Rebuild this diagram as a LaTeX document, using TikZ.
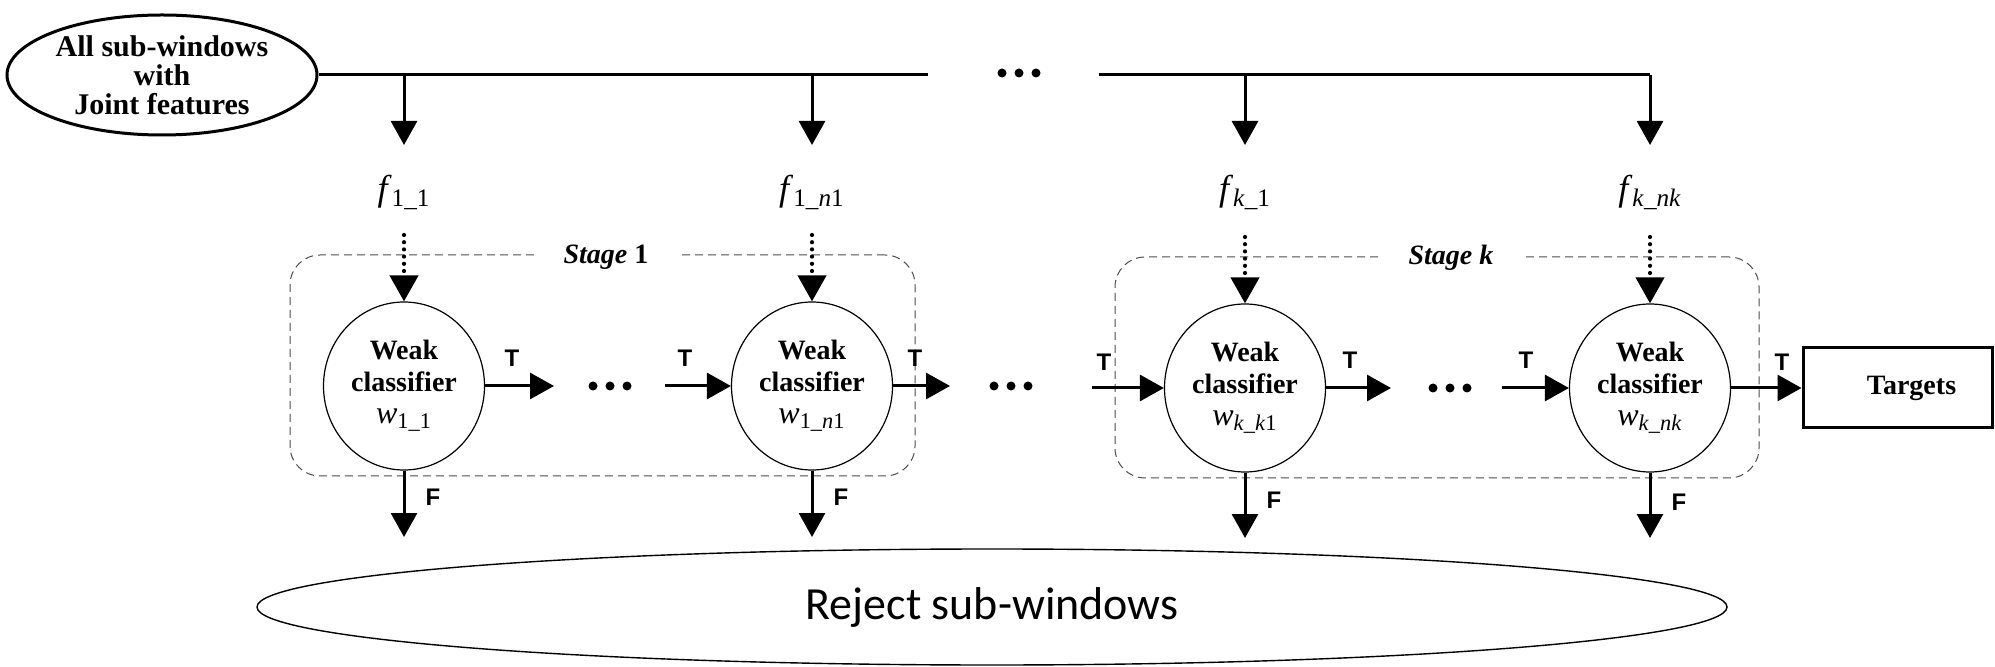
\documentclass[tikz,border=0pt]{standalone}
\usepackage{fontspec}
\usepackage{amsmath}
\setmainfont{Liberation Serif}
\newfontfamily\lsans{Liberation Sans}
\newfontfamily\carl{Carlito}
\usetikzlibrary{arrows.meta,shapes.geometric}
\newcommand{\wsub}[1]{{\mdseries\fontsize{16}{16}\selectfont\textit{w}$_{\text{\mdseries #1}}$}}
\newcommand{\fsub}[1]{\textit{f}$_{\text{#1}}$}
\tikzset{
  bigarrow/.style={line width=1.5pt,-{Triangle[length=12pt,width=13pt]}},
  dotarrow/.style={line width=2.1pt,line cap=round,dash pattern=on 0pt off 3.6pt,-{Triangle[length=13pt,width=14pt]}},
  wc/.style={ellipse,draw,line width=0.6pt,minimum width=80.5pt,minimum height=84pt,inner sep=0pt,align=center,fill=white,font=\fontsize{14}{16}\selectfont\bfseries},
  lab/.style={inner sep=0pt,font=\lsans\bfseries\fontsize{12}{12}\selectfont},
  flab/.style={inner sep=0pt,anchor=base,font=\fontsize{18}{18}\selectfont},
  stagebox/.style={draw=black!70,line width=0.5pt,dash pattern=on 4pt off 2.5pt,rounded corners=15pt,inner sep=0pt},
  stagelab/.style={fill=white,inner xsep=15pt,inner ysep=2pt,font=\fontsize{14}{14}\selectfont\bfseries\itshape},
  bdot/.style={circle,fill,inner sep=0pt,minimum size=4.5pt},
}
\begin{document}
\begin{tikzpicture}[x=0.5pt,y=-0.5pt]
\useasboundingbox (0,0) rectangle (1995,667);

% stage boxes
\node[stagebox,minimum width=312.5pt,minimum height=110.5pt] (s1) at (602.5,365.5) {};
\node[stagebox,minimum width=322pt,minimum height=110.5pt] (sk) at (1437,367.5) {};
\node[stagelab] (s1l) at (606,257) {Stage \textup{1}};
\node[stagelab] (skl) at (1451,258) {Stage k};

% source
\node[ellipse,draw,line width=1.5pt,minimum width=155pt,minimum height=60pt,inner sep=0pt,align=center,font=\fontsize{15}{14.5}\selectfont\bfseries] (src) at (162,75) {All sub-windows\\with\\Joint features};

\coordinate (l1e) at (928,75);
\coordinate (l2s) at (1099,75);
\coordinate (t1) at (404,75);
\coordinate (t2) at (812,75);
\coordinate (t3) at (1245,75);
\coordinate (t4) at (1650,75);
\draw[line width=1.5pt] (src.east) -- (l1e);
\draw[line width=1.5pt] (l2s) -- (t4);
\node[bdot] (td1) at (1002,73) {};
\node[bdot] (td2) at (1019,73) {};
\node[bdot] (td3) at (1036,73) {};

\coordinate (a1) at (404,145);
\coordinate (a2) at (812,145);
\coordinate (a3) at (1245,145);
\coordinate (a4) at (1650,145);
\draw[bigarrow] (t1) -- (a1);
\draw[bigarrow] (t2) -- (a2);
\draw[bigarrow] (t3) -- (a3);
\draw[bigarrow] (t4) -- (a4);

% features
\node[flab] (f1) at (404,201) {\fsub{1\_1}};
\node[flab] (f2) at (812,201) {\fsub{1\_\textit{n}1}};
\node[flab] (f3) at (1245,201) {\fsub{\textit{k}\_1}};
\node[flab] (f4) at (1650,201) {\fsub{\textit{k}\_\textit{nk}}};

% classifiers
\node[wc] (c1) at (404,386) {Weak\\classifier\\\wsub{1\_1}};
\node[wc] (c2) at (812,386) {Weak\\classifier\\\wsub{1\_\textit{n}1}};
\node[wc] (c3) at (1245,388) {Weak\\classifier\\\wsub{\textit{k}\_\textit{k}1}};
\node[wc] (c4) at (1650,388) {Weak\\classifier\\\wsub{\textit{k}\_\textit{nk}}};

\coordinate (d1) at (404,235);
\coordinate (d2) at (812,235);
\coordinate (d3) at (1245,237);
\coordinate (d4) at (1650,237);
\draw[dotarrow] (d1) -- (c1.north);
\draw[dotarrow] (d2) -- (c2.north);
\draw[dotarrow] (d3) -- (c3.north);
\draw[dotarrow] (d4) -- (c4.north);

% targets
\node[draw,line width=1.5pt,minimum width=94.5pt,minimum height=40pt,inner sep=0pt,font=\fontsize{14}{14}\selectfont\bfseries] (tg) at (1897.5,388) {\hspace*{14pt}Targets};

% T arrows
\coordinate (o1) at (554,386);
\coordinate (i2) at (665,386);
\coordinate (o2) at (950,386);
\coordinate (i3) at (1092,388);
\coordinate (o3) at (1391,388);
\coordinate (i4) at (1502,388);
\draw[bigarrow] (c1.east) -- (o1);
\draw[bigarrow] (i2) -- (c2.west);
\draw[bigarrow] (c2.east) -- (o2);
\draw[bigarrow] (i3) -- (c3.west);
\draw[bigarrow] (c3.east) -- (o3);
\draw[bigarrow] (i4) -- (c4.west);
\draw[bigarrow] (c4.east) -- (tg.west);

\node[lab] (T1) at (512,358) {T};
\node[lab] (T2) at (685,358) {T};
\node[lab] (T3) at (915,358) {T};
\node[lab] (T4) at (1104,362) {T};
\node[lab] (T5) at (1350,360) {T};
\node[lab] (T6) at (1526,360) {T};
\node[lab] (T7) at (1782,362) {T};

% dots between
\node[bdot] (m11) at (593,386) {};
\node[bdot] (m12) at (610,386) {};
\node[bdot] (m13) at (627,386) {};
\node[bdot] (m21) at (994,386) {};
\node[bdot] (m22) at (1011,386) {};
\node[bdot] (m23) at (1028,386) {};
\node[bdot] (m31) at (1433,388) {};
\node[bdot] (m32) at (1450,388) {};
\node[bdot] (m33) at (1467,388) {};

% F arrows
\coordinate (r1) at (404,537);
\coordinate (r2) at (812,537);
\coordinate (r3) at (1245,538);
\coordinate (r4) at (1650,538);
\draw[bigarrow] (c1.south) -- (r1);
\draw[bigarrow] (c2.south) -- (r2);
\draw[bigarrow] (c3.south) -- (r3);
\draw[bigarrow] (c4.south) -- (r4);
\node[lab] (F1) at (433,497) {F};
\node[lab] (F2) at (841,497) {F};
\node[lab] (F3) at (1274,500) {F};
\node[lab] (F4) at (1679,502) {F};

% reject
\node[ellipse,draw,line width=0.7pt,minimum width=735pt,minimum height=58pt,inner sep=0pt,font=\carl\fontsize{23}{23}\selectfont] (rej) at (992,607) {Reject sub-windows};
\end{tikzpicture}
\end{document}
